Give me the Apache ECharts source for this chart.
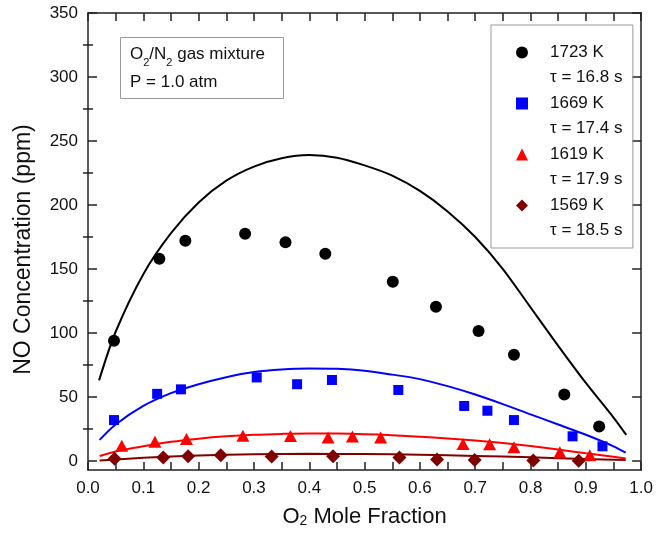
<!DOCTYPE html>
<html><head><meta charset="utf-8">
<script src="https://cdn.jsdelivr.net/npm/echarts@6/dist/echarts.min.js"></script>
<style>html,body{margin:0;padding:0;background:#fff}#c{width:656px;height:537px}</style>
</head><body><div id="c"></div>
<script>
// ---- tick / label values ----
const xTickValues = [0,0.05,0.1,0.15,0.2,0.25,0.3,0.35,0.4,0.45,0.5,0.55,0.6,0.65,0.7,0.75,0.8,0.85,0.9,0.95,1.0];
const xLabelValues = [0,0.1,0.2,0.3,0.4,0.5,0.6,0.7,0.8,0.9,1.0];
const yLabelValues = [0,50,100,150,200,250,300,350];
const yMinorTicks = [25,75,125,175,225,275,325];

// ---- legend text ----
const seriesNames = ['1723 K','1669 K','1619 K','1569 K'];
const residenceTimes = ['τ = 16.8 s','τ = 17.4 s','τ = 17.9 s','τ = 18.5 s'];

// ---- measured points ----
const x1723 = [0.047,0.129,0.176,0.284,0.357,0.429,0.551,0.629,0.706,0.770,0.861,0.924];
const y1723 = [94,158,172,177.5,171,162,140,120.5,101.5,83,52,27];
const x1669 = [0.047,0.125,0.168,0.305,0.378,0.441,0.561,0.680,0.722,0.770,0.876,0.930];
const y1669 = [32,52.5,56,65.3,60,63.3,55.5,43,39.3,32,19.3,11.5];
const x1619 = [0.061,0.121,0.178,0.280,0.366,0.434,0.478,0.529,0.678,0.726,0.770,0.853,0.907];
const y1619 = [12,15,17.3,19.7,19.6,18.4,19.1,18.3,13.4,13.2,10.8,6.8,4.5];
const x1569 = [0.048,0.136,0.181,0.240,0.332,0.443,0.563,0.631,0.699,0.805,0.887];
const y1569 = [1.8,2.8,3.8,4.5,3.5,3.8,2.8,1.2,0.9,0.4,0.2];

// ---- model curves ----
const fitX1723 = [0.02,0.05,0.10,0.15,0.20,0.25,0.30,0.35,0.40,0.45,0.50,0.55,0.60,0.65,0.70,0.75,0.80,0.85,0.90,0.95,0.973];
const fitY1723 = [63,101,146,178,202,219,230,236.5,239,237,231,223,211,195,175,150,120,90,61,34,20.5];
const fitX1669 = [0.021,0.05,0.1,0.15,0.2,0.25,0.3,0.35,0.4,0.45,0.5,0.55,0.6,0.65,0.7,0.75,0.8,0.85,0.9,0.95,0.972];
const fitY1669 = [16.5,28.5,43,53,60,65.5,69.5,71.5,72.3,72,70.5,67.5,64,58.5,52,44.5,36.5,28.5,20.5,11.5,6.5];
const fitX1619 = [0.021,0.05,0.1,0.15,0.2,0.25,0.3,0.35,0.4,0.45,0.5,0.55,0.6,0.65,0.7,0.75,0.8,0.85,0.9,0.95,0.972];
const fitY1619 = [3.9,7.5,11.5,15,17.5,19.3,20.5,21.2,21.6,21.5,21,20.2,19,17.6,16,14,11.7,9,6,3.3,2];
const fitX1569 = [0.021,0.1,0.2,0.3,0.4,0.5,0.6,0.7,0.8,0.9,0.972];
const fitY1569 = [0.5,2.5,4.3,5.3,5.6,5.5,5,4,2.9,1.6,0.8];

const FONT = "'Liberation Sans', Arial, Helvetica, sans-serif";
const AX = '#222';
const zip = (a, b) => a.map((v, i) => [v, b[i]]);

const colors = ['#000000', '#0000ff', '#ff0000', '#800000'];
const symbols = ['circle', 'rect', 'triangle', 'diamond'];
const sizes = [12, 10, [13, 12], 14];
const ptsX = [x1723, x1669, x1619, x1569];
const ptsY = [y1723, y1669, y1619, y1569];
const fitXs = [fitX1723, fitX1669, fitX1619, fitX1569];
const fitYs = [fitY1723, fitY1669, fitY1619, fitY1569];

const series = [];
for (let i = 0; i < 4; i++) {
  series.push({
    type: 'line', name: 'fit' + i, data: zip(fitXs[i], fitYs[i]),
    smooth: 0.3, showSymbol: false, symbol: 'none',
    lineStyle: { color: colors[i], width: 2 }, z: 2, silent: true
  });
}
for (let i = 0; i < 4; i++) {
  series.push({
    type: 'scatter', name: seriesNames[i], data: zip(ptsX[i], ptsY[i]),
    symbol: symbols[i], symbolSize: sizes[i],
    itemStyle: { color: colors[i], opacity: 1 }, z: 3
  });
}

const tickStyle = { color: AX, width: 1.5 };
const option = {
  animation: false,
  backgroundColor: '#fff',
  textStyle: { fontFamily: FONT },
  grid: { left: 88, right: 12, top: 13, bottom: 67, containLabel: false },
  title: {
    text: 'O{s|2}/N{s|2} gas mixture\nP = 1.0 atm',
    left: 120, top: 37,
    padding: [3, 19, 3, 10],
    borderColor: '#999', borderWidth: 1,
    textStyle: {
      fontFamily: FONT, fontSize: 17, fontWeight: 'normal', color: '#111', lineHeight: 28,
      rich: { s: { fontFamily: FONT, fontSize: 11, color: '#111', verticalAlign: 'bottom', lineHeight: 16 } }
    }
  },
  legend: [{
    data: seriesNames, orient: 'vertical', left: 491, top: 25,
    padding: [19, 29, 34, 25], itemWidth: 12, itemHeight: 12, itemGap: 34,
    borderColor: '#999', borderWidth: 1, selectedMode: false,
    textStyle: { fontFamily: FONT, fontSize: 17, lineHeight: 16, color: '#111', padding: [0, 0, 0, 17] }
  }, {
    data: seriesNames, orient: 'vertical', left: 491, top: 50,
    padding: [19, 0, 0, 25], itemWidth: 12, itemHeight: 12, itemGap: 34,
    icon: 'none', selectedMode: false,
    formatter: name => residenceTimes[seriesNames.indexOf(name)],
    textStyle: { fontFamily: FONT, fontSize: 17, lineHeight: 16, color: '#111', padding: [0, 0, 0, 17] }
  }],
  xAxis: [{
    type: 'value', position: 'bottom', min: 0, max: 1, interval: 0.1,
    axisLine: { show: true, onZero: false, lineStyle: tickStyle },
    axisTick: { show: true, inside: true, length: 8, customValues: xTickValues, lineStyle: tickStyle },
    axisLabel: { customValues: xLabelValues, formatter: v => v.toFixed(1), fontSize: 17, color: '#111', margin: 10, fontFamily: FONT },
    splitLine: { show: false },
    name: 'O{s|2} Mole Fraction', nameLocation: 'middle', nameGap: 36,
    nameTextStyle: { fontSize: 22, color: '#111', fontFamily: FONT,
      rich: { s: { fontSize: 14, fontFamily: FONT, color: '#111', verticalAlign: 'bottom', lineHeight: 18 } } }
  }, {
    type: 'value', position: 'top', min: 0, max: 1, interval: 0.1,
    axisLine: { show: true, onZero: false, lineStyle: tickStyle },
    axisTick: { show: true, inside: true, length: 8, customValues: xTickValues, lineStyle: tickStyle },
    axisLabel: { show: false }, splitLine: { show: false }
  }],
  yAxis: [{
    type: 'value', position: 'left', min: -7, max: 350,
    axisLine: { show: true, onZero: false, lineStyle: tickStyle },
    axisTick: { show: true, inside: true, length: 9, customValues: yLabelValues, lineStyle: tickStyle },
    axisLabel: { customValues: yLabelValues, fontSize: 17, color: '#111', margin: 10, fontFamily: FONT },
    splitLine: { show: false },
    name: 'NO Concentration (ppm)', nameLocation: 'middle', nameGap: 53,
    nameTextStyle: { fontSize: 23, color: '#111', fontFamily: FONT, padding: [0, 16, 0, 0] }
  }, {
    type: 'value', position: 'left', min: -7, max: 350,
    axisLine: { show: false },
    axisTick: { show: true, inside: true, length: 5, customValues: yMinorTicks, lineStyle: tickStyle },
    axisLabel: { show: false }, splitLine: { show: false }
  }, {
    type: 'value', position: 'right', min: -7, max: 350,
    axisLine: { show: true, onZero: false, lineStyle: tickStyle },
    axisTick: { show: true, inside: true, length: 9, customValues: yLabelValues, lineStyle: tickStyle },
    axisLabel: { show: false }, splitLine: { show: false }
  }, {
    type: 'value', position: 'right', min: -7, max: 350,
    axisLine: { show: false },
    axisTick: { show: true, inside: true, length: 5, customValues: yMinorTicks, lineStyle: tickStyle },
    axisLabel: { show: false }, splitLine: { show: false }
  }],
  series: series
};
const chart = echarts.init(document.getElementById('c'), null, { renderer: 'canvas' });
chart.setOption(option);
</script>
</body></html>
